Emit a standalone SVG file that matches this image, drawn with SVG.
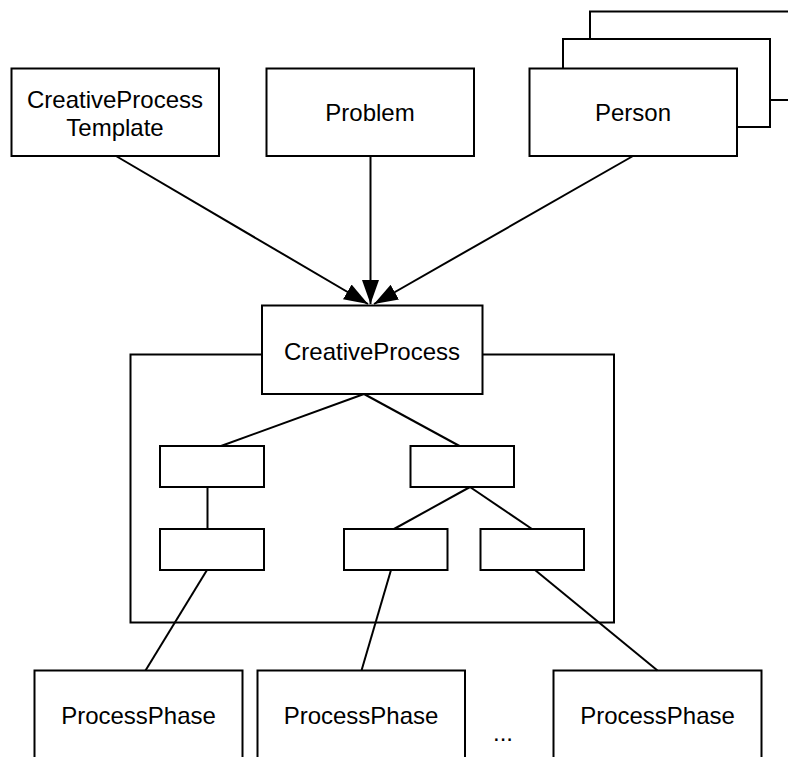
<svg xmlns="http://www.w3.org/2000/svg" width="788" height="757" viewBox="0 0 788 757">
<style>
.box{fill:#fff;stroke:#000;stroke-width:2}
.ln{fill:none;stroke:#000;stroke-width:2}
.t{font-family:"Liberation Sans",Arial,sans-serif;font-size:24px;fill:#000;text-anchor:middle}
</style>
<defs>
<marker id="arr" markerUnits="userSpaceOnUse" markerWidth="26" markerHeight="19" refX="24" refY="8.5" orient="auto" viewBox="0 0 26 19">
<path d="M0,0 L24,8.5 L0,17 z" fill="#000"/>
</marker>
</defs>
<rect width="788" height="757" fill="#fff"/>
<g id="frame">
<rect class="box" x="130.5" y="354.5" width="483.5" height="268"/>
</g>
<g id="template">
<rect class="box" x="11.5" y="68.5" width="207.5" height="87.5"/>
<text class="t" x="115" y="108">CreativeProcess</text>
<text class="t" x="115" y="136">Template</text>
</g>
<g id="problem">
<rect class="box" x="266.5" y="68.5" width="207.5" height="87.5"/>
<text class="t" x="370" y="121">Problem</text>
</g>
<g id="person">
<rect class="box" x="590" y="11.5" width="210" height="88.5"/>
<rect class="box" x="563" y="39" width="207" height="88"/>
<rect class="box" x="529.5" y="68.5" width="207.5" height="87.5"/>
<text class="t" x="633" y="121">Person</text>
</g>
<g id="creativeprocess">
<rect class="box" x="262" y="305.5" width="220.5" height="88.5"/>
<text class="t" x="372" y="360">CreativeProcess</text>
</g>
<g id="a"><rect class="box" x="160" y="446" width="104" height="41"/></g>
<g id="b"><rect class="box" x="410.5" y="446" width="103.5" height="41"/></g>
<g id="c"><rect class="box" x="160" y="529" width="104" height="41"/></g>
<g id="d"><rect class="box" x="344" y="529" width="103.5" height="41"/></g>
<g id="e"><rect class="box" x="480.5" y="529" width="103.5" height="41"/></g>
<g id="phase1">
<rect class="box" x="34.5" y="670.5" width="208" height="100"/>
<text class="t" x="138.5" y="724">ProcessPhase</text>
</g>
<g id="phase2">
<rect class="box" x="257.5" y="670.5" width="207.5" height="100"/>
<text class="t" x="361" y="724">ProcessPhase</text>
</g>
<g id="phase3">
<rect class="box" x="553.5" y="670.5" width="208" height="100"/>
<text class="t" x="657.5" y="724">ProcessPhase</text>
</g>
<text class="t" x="503" y="741">...</text>
<g id="connectors">
<line class="ln" x1="116" y1="156" x2="368" y2="304" marker-end="url(#arr)"/>
<line class="ln" x1="370.5" y1="156" x2="370.5" y2="304" marker-end="url(#arr)"/>
<line class="ln" x1="633" y1="156" x2="374" y2="304" marker-end="url(#arr)"/>
<line class="ln" x1="364" y1="394" x2="221" y2="446"/>
<line class="ln" x1="364" y1="394" x2="459.5" y2="446"/>
<line class="ln" x1="207.5" y1="487" x2="207.5" y2="529"/>
<line class="ln" x1="470" y1="487" x2="394" y2="529"/>
<line class="ln" x1="470" y1="487" x2="532" y2="529"/>
<line class="ln" x1="207" y1="570" x2="145.5" y2="670.5"/>
<line class="ln" x1="391" y1="570" x2="361.5" y2="670.5"/>
<line class="ln" x1="535" y1="570" x2="657.5" y2="670.5"/>
</g>
</svg>
